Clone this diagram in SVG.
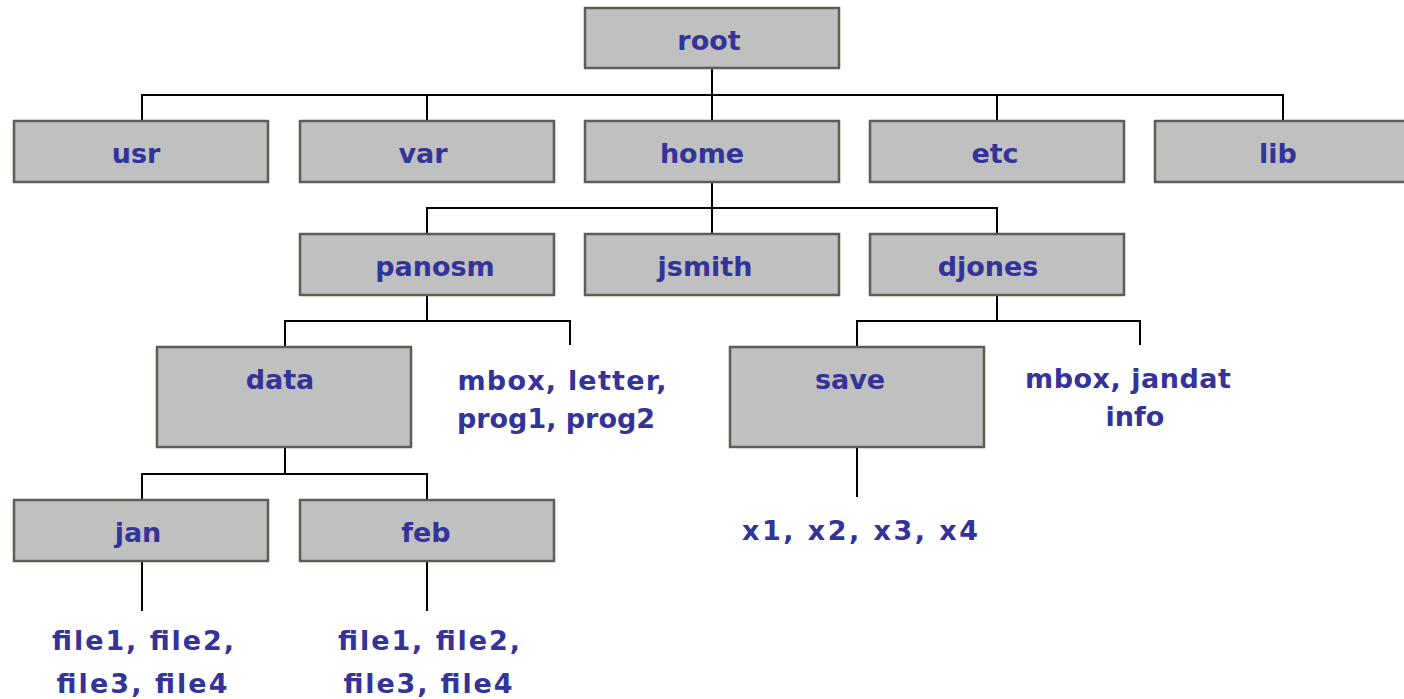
<svg xmlns="http://www.w3.org/2000/svg" width="1404" height="699" viewBox="0 0 1404 699">
<style>
.box{fill:#c0c0c0;stroke:#615b55;stroke-width:2.5}
.lbl{font-family:"DejaVu Sans","Liberation Sans",Arial,sans-serif;font-weight:bold;font-size:27px;fill:#333399;text-anchor:middle}
.con{fill:none;stroke:#000;stroke-width:2}
</style>
<rect width="1404" height="699" fill="#fff"/>
<g id="connectors" class="con">
<path d="M712 68V95M142 121V95H1283V121M427 95V121M712 95V121M997 95V121"/>
<path d="M712 182V208M427 234V208H997V234M712 208V234"/>
<path d="M427 295V321M285 347V321H570V345"/>
<path d="M997 295V321M857 347V321H1140V345"/>
<path d="M857 447V497"/>
<path d="M285 447V474M142 500V474H427V500"/>
<path d="M142 561V611M427 561V611"/>
</g>
<g id="root"><rect class="box" x="585" y="8" width="254" height="60"/><text class="lbl" x="709" y="50">root</text></g>
<g id="usr"><rect class="box" x="14" y="121" width="254" height="61"/><text class="lbl" x="136" y="163">usr</text></g>
<g id="var"><rect class="box" x="300" y="121" width="254" height="61"/><text class="lbl" x="423" y="163">var</text></g>
<g id="home"><rect class="box" x="585" y="121" width="254" height="61"/><text class="lbl" x="702" y="163">home</text></g>
<g id="etc"><rect class="box" x="870" y="121" width="254" height="61"/><text class="lbl" x="995" y="163">etc</text></g>
<g id="lib"><rect class="box" x="1155" y="121" width="254" height="61"/><text class="lbl" x="1278" y="163">lib</text></g>
<g id="panosm"><rect class="box" x="300" y="234" width="254" height="61"/><text class="lbl" x="435" y="276">panosm</text></g>
<g id="jsmith"><rect class="box" x="585" y="234" width="254" height="61"/><text class="lbl" x="705" y="276">jsmith</text></g>
<g id="djones"><rect class="box" x="870" y="234" width="254" height="61"/><text class="lbl" x="988" y="276">djones</text></g>
<g id="data"><rect class="box" x="157" y="347" width="254" height="100"/><text class="lbl" x="280" y="389">data</text></g>
<g id="panosm-files"><text class="lbl" x="562" y="390" textLength="209" lengthAdjust="spacing">mbox, letter,</text><text class="lbl" x="556" y="428" textLength="198" lengthAdjust="spacing">prog1, prog2</text></g>
<g id="save"><rect class="box" x="730" y="347" width="254" height="100"/><text class="lbl" x="850" y="389">save</text></g>
<g id="djones-files"><text class="lbl" x="1128" y="388" textLength="206" lengthAdjust="spacing">mbox, jandat</text><text class="lbl" x="1135" y="426">info</text></g>
<g id="save-files"><text class="lbl" x="860" y="540" textLength="236" lengthAdjust="spacing">x1, x2, x3, x4</text></g>
<g id="jan"><rect class="box" x="14" y="500" width="254" height="61"/><text class="lbl" x="138" y="542">jan</text></g>
<g id="feb"><rect class="box" x="300" y="500" width="254" height="61"/><text class="lbl" x="426" y="542">feb</text></g>
<g id="jan-files"><text class="lbl" x="143" y="650" textLength="182" lengthAdjust="spacing">file1, file2,</text><text class="lbl" x="142" y="693" textLength="171" lengthAdjust="spacing">file3, file4</text></g>
<g id="feb-files"><text class="lbl" x="429" y="650" textLength="182" lengthAdjust="spacing">file1, file2,</text><text class="lbl" x="428" y="693" textLength="169" lengthAdjust="spacing">file3, file4</text></g>
</svg>
